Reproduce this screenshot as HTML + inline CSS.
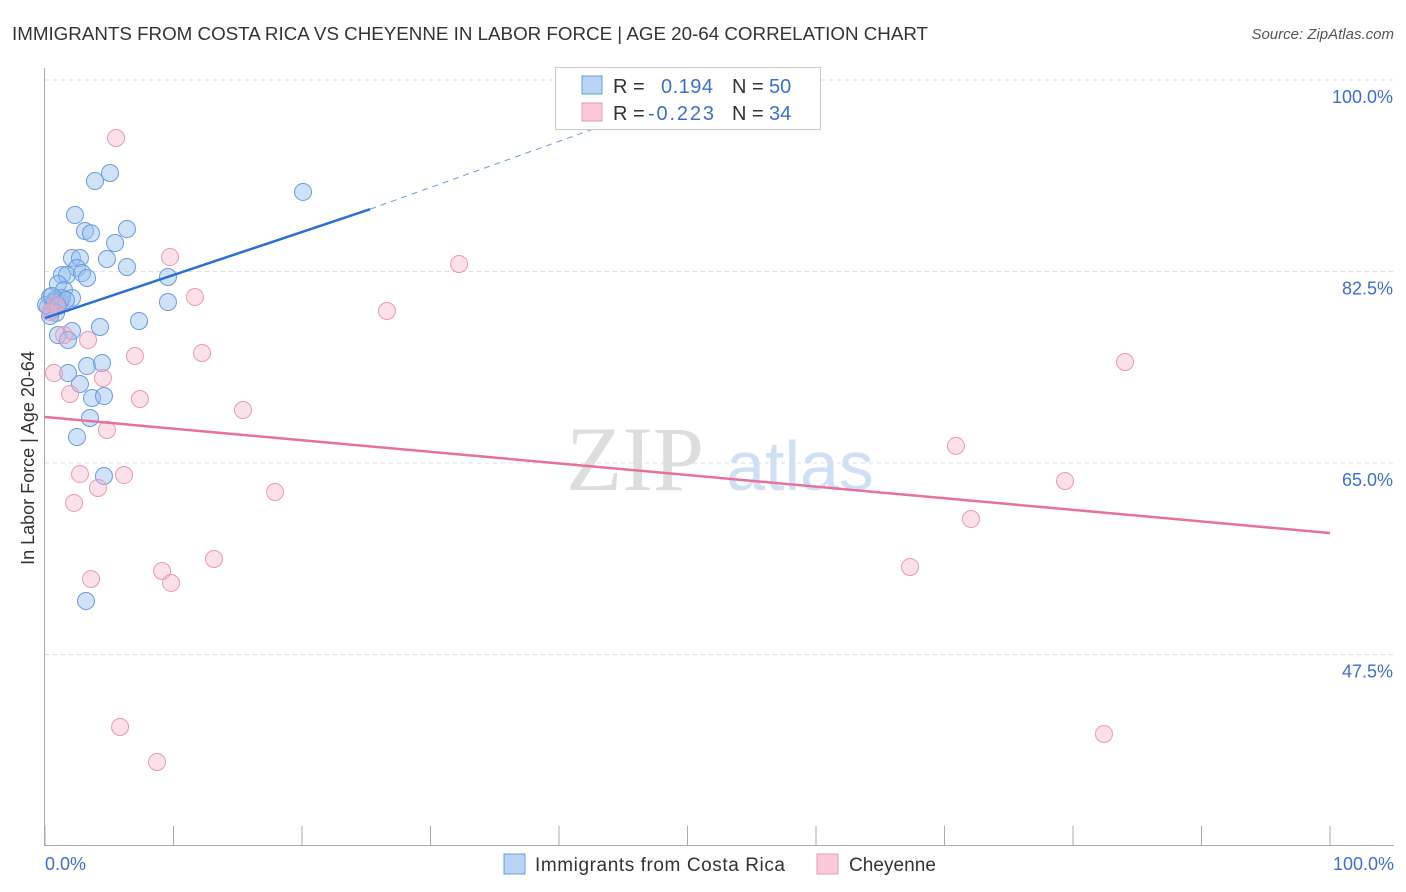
<!DOCTYPE html>
<html><head><meta charset="utf-8"><style>
body{margin:0;background:#fff;font-family:"Liberation Sans",sans-serif}
</style></head><body>
<svg width="1406" height="892" id="c" style="display:block">
<text x="12" y="40" font-size="18" fill="#333" textLength="916" lengthAdjust="spacingAndGlyphs">IMMIGRANTS FROM COSTA RICA VS CHEYENNE IN LABOR FORCE | AGE 20-64 CORRELATION CHART</text>
<text x="1394" y="39" font-size="15" fill="#555" font-style="italic" text-anchor="end">Source: ZipAtlas.com</text>
<text x="34" y="458" font-size="18" fill="#333" text-anchor="middle" transform="rotate(-90 34 458)">In Labor Force | Age 20-64</text>
<g><text x="635" y="490" font-size="92" fill="#ddd" font-family="Liberation Serif,serif" text-anchor="middle">ZIP</text><text x="800" y="490" font-size="70" fill="#cfe0f4" text-anchor="middle">atlas</text></g>
<g id="grid"></g><g id="marks"></g>
<g>
<rect x="555.5" y="67.5" width="265" height="62" fill="#fff" stroke="#ccc"/>
<rect x="582" y="76" width="20" height="18" fill="#b9d3f5" stroke="#6a9be0"/>
<rect x="582" y="103" width="20" height="18" fill="#f9c9d7" stroke="#e99ab2"/>
<text x="613" y="93" font-size="20" fill="#333">R =</text><text x="661" y="93" font-size="20" fill="#3a6fd1" textLength="52">0.194</text>
<text x="732" y="93" font-size="20" fill="#333">N =</text><text x="769" y="93" font-size="20" fill="#3a6fd1">50</text>
<text x="613" y="120" font-size="20" fill="#333">R =</text><text x="648" y="120" font-size="20" fill="#3a6fd1" textLength="66">-0.223</text>
<text x="732" y="120" font-size="20" fill="#333">N =</text><text x="769" y="120" font-size="20" fill="#3a6fd1">34</text>
</g>
<g>
<rect x="504" y="854" width="21" height="20" fill="#b9d3f5" stroke="#6a9be0"/>
<text x="535" y="871" font-size="19" fill="#333" textLength="250">Immigrants from Costa Rica</text>
<rect x="817" y="854" width="21" height="20" fill="#f9c9d7" stroke="#e99ab2"/>
<text x="849" y="871" font-size="19" fill="#333" textLength="87">Cheyenne</text>
</g>
</svg>
<script>
const yTicks=[100,82.5,65,47.5];
const xTickLabels=["0.0%","100.0%"];
const blueX=[5.06,3.89,20.08,2.33,6.38,3.11,3.58,5.45,2.10,2.72,4.82,6.38,2.49,1.32,1.71,2.88,3.27,9.57,1.01,1.48,2.10,0.39,0.78,1.17,9.57,0.23,0.54,0.86,0.39,7.32,4.28,2.10,1.01,1.79,3.27,4.44,2.72,1.79,3.66,4.59,3.50,2.49,4.59,3.19,0.70,1.32,0.08,1.63,0.54,1.01];
const blueY=[91.5,90.77,89.77,87.66,86.38,86.2,86.0,85.1,83.73,83.73,83.64,82.91,82.82,82.18,82.18,82.36,81.91,82.0,81.36,80.81,80.08,80.17,79.9,79.71,79.71,79.26,78.98,78.71,78.43,77.98,77.43,77.06,76.7,76.24,73.86,74.14,72.22,73.22,70.94,71.12,69.11,67.38,63.81,52.39,79.71,80.08,79.44,79.9,80.26,79.35];
const pinkX=[5.53,9.73,32.22,11.67,26.61,3.35,1.48,7.0,12.22,0.70,4.51,1.95,7.39,15.41,4.82,70.89,2.72,6.15,4.12,17.9,2.26,72.06,79.38,84.05,67.32,13.15,9.11,9.81,3.58,5.84,8.72,82.41,0.86,0.39];
const pinkY=[94.7,83.82,83.19,80.17,78.89,76.24,76.7,74.78,75.05,73.22,72.77,71.31,70.85,69.84,68.02,66.56,63.99,63.9,62.72,62.35,61.35,59.88,63.36,74.23,55.5,56.23,55.13,54.04,54.4,40.88,37.68,40.24,79.44,78.8];
const blueTrend=[78.25,88.2,96.5];
const blueTrendX=[0,25.3,45];
const pinkTrend=[69.2,58.6];
const NS="http://www.w3.org/2000/svg";
const X=v=>45+v*12.85, Y=v=>80+(100-v)*10.943;
function mk(t,a,p){const e=document.createElementNS(NS,t);for(const k in a)e.setAttribute(k,a[k]);p.appendChild(e);return e;}
const g=document.getElementById('grid'),m=document.getElementById('marks');
yTicks.forEach(t=>{const l=mk('line',{x1:45,x2:1394,y1:Y(t),y2:Y(t),stroke:'#ddd','stroke-dasharray':'4 4'},g);


const tx=mk('text',{x:1393,y:Y(t)+23,'font-size':18,fill:'#3a6fd1','text-anchor':'end'},g);tx.textContent=t.toFixed(1)+'%';

});
const ax=mk('line',{x1:44.5,x2:44.5,y1:68,y2:845,stroke:'#aaa'},g);


const bx=mk('line',{x1:44,x2:1394,y1:845.5,y2:845.5,stroke:'#aaa'},g);


for(let i=0;i<=10;i++){const t=mk('line',{x1:X(i*10),x2:X(i*10),y1:826,y2:845,stroke:'#aaa'},g);

}
xTickLabels.forEach((s,i)=>{const t=mk('text',{x:i?1394:45,y:870,'font-size':18,fill:'#3a6fd1','text-anchor':i?'end':'start'},g);t.textContent=s;

});
blueX.forEach((v,i)=>{const c=mk('circle',{cx:X(v),cy:Y(blueY[i]),r:8.5,fill:'rgba(150,190,240,0.45)',stroke:'#6a9be0','stroke-width':1},m);

});
pinkX.forEach((v,i)=>{const c=mk('circle',{cx:X(v),cy:Y(pinkY[i]),r:8.5,fill:'rgba(245,175,200,0.4)',stroke:'#e99ab2','stroke-width':1},m);

});
const bl=mk('line',{x1:X(blueTrendX[0]),y1:Y(blueTrend[0]),x2:X(blueTrendX[1]),y2:Y(blueTrend[1]),stroke:'#2a6fd6','stroke-width':2.5},m);


const bd=mk('line',{x1:X(blueTrendX[1]),y1:Y(blueTrend[1]),x2:X(blueTrendX[2]),y2:Y(blueTrend[2]),stroke:'#6a9be0','stroke-width':1,'stroke-dasharray':'6 5'},m);


const pl=mk('line',{x1:X(0),y1:Y(pinkTrend[0]),x2:X(100),y2:Y(pinkTrend[1]),stroke:'#e8709a','stroke-width':2.5},m);


</script>
</body></html>
